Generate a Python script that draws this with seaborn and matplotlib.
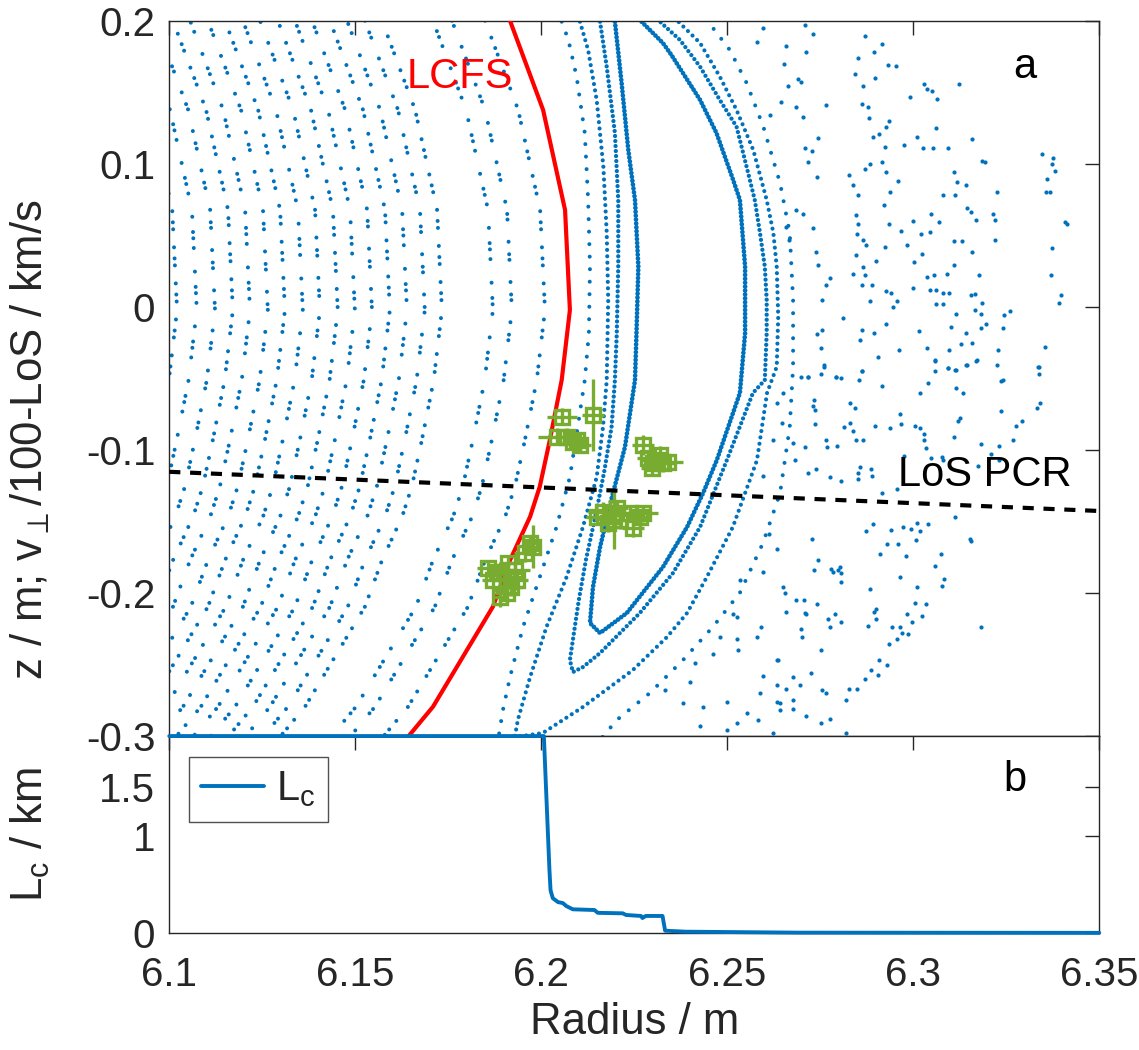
import numpy as np
import pandas as pd
import matplotlib
matplotlib.use("Agg")
import matplotlib.pyplot as plt
import seaborn as sns

# ---------------- data ----------------
x_ticks = [6.1, 6.15, 6.2, 6.25, 6.3, 6.35]
x_tick_labels = ["6.1", "6.15", "6.2", "6.25", "6.3", "6.35"]
z_ticks = [0.2, 0.1, 0.0, -0.1, -0.2, -0.3]
z_tick_labels = ["0.2", "0.1", "0", "-0.1", "-0.2", "-0.3"]
lc_ticks = [0, 1, 1.5]
lc_tick_labels = ["0", "1", "1.5"]

# last closed flux surface
lcfs_R = [6.1916, 6.2005, 6.2064, 6.2077, 6.2055, 6.2023, 6.1996, 6.1970, 6.1916, 6.1870, 6.1709, 6.1642]
lcfs_z = [0.2, 0.1376, 0.0677, -0.0022, -0.0511, -0.0932, -0.1257, -0.1467, -0.1771, -0.2096, -0.2795, -0.3005]

# radial distance of the nested closed surfaces inside the LCFS (read at z ~ 0)
surface_offset_R = [0.1100, 0.1056, 0.1003, 0.0954, 0.0906, 0.0860, 0.0812, 0.0766, 0.0718, 0.0672,
                    0.0624, 0.0578, 0.0532, 0.0484, 0.0438, 0.0390, 0.0344, 0.0207, 0.0156, 0.0067]

# island chains (traced Poincare bands)
island1_R = [6.2198, 6.2216, 6.2234, 6.2252, 6.2261, 6.2256, 6.2252, 6.2225, 6.2190, 6.2158, 6.2139, 6.2131,
             6.2158, 6.2230, 6.2327, 6.2392, 6.2435, 6.2472, 6.2534, 6.2548, 6.2548, 6.2534, 6.2516, 6.2471,
             6.2427, 6.2350, 6.2327, 6.2265]
island1_z = [0.1993, 0.1565, 0.1096, 0.0747, 0.0280, -0.0183, -0.0512, -0.0980, -0.1330, -0.1680, -0.1959, -0.2210,
             -0.2280, -0.2140, -0.1819, -0.1539, -0.1302, -0.1071, -0.0602, -0.0183, 0.0280, 0.0747, 0.0886, 0.1215,
             0.1446, 0.1760, 0.1844, 0.2005]

island2_R = [6.2158, 6.2176, 6.2198, 6.2207, 6.2207, 6.2203, 6.2198, 6.2189, 6.2170, 6.2149, 6.2120, 6.2101,
             6.2085, 6.2077, 6.2085, 6.2112, 6.2158, 6.2265, 6.2354, 6.2427, 6.2499, 6.2569, 6.2601, 6.2606,
             6.2606, 6.2601, 6.2588, 6.2574, 6.2552, 6.2525, 6.2480, 6.2427, 6.2373, 6.2314]
island2_z = [0.1993, 0.1678, 0.1215, 0.0747, 0.0280, -0.0183, -0.0512, -0.0840, -0.1141, -0.1421, -0.1770, -0.2049,
             -0.2329, -0.2469, -0.2553, -0.2518, -0.2420, -0.2140, -0.1861, -0.1539, -0.1071, -0.0602, -0.0512, -0.0183,
             0.0048, 0.0280, 0.0516, 0.0747, 0.0979, 0.1259, 0.1446, 0.1678, 0.1865, 0.2005]

island3_R = [6.2104, 6.2126, 6.2149, 6.2167, 6.2176, 6.2180, 6.2176, 6.2166, 6.2149, 6.2112, 6.2068, 6.2014,
             6.1970, 6.1937, 6.1929, 6.2004, 6.2112, 6.2246, 6.2338, 6.2392, 6.2445, 6.2515, 6.2580, 6.2607,
             6.2633, 6.2637, 6.2633, 6.2624, 6.2606, 6.2570, 6.2525, 6.2480, 6.2427, 6.2364]
island3_z = [0.1993, 0.1795, 0.1446, 0.0979, 0.0516, 0.0048, -0.0512, -0.0840, -0.1190, -0.1539, -0.1889, -0.2238,
             -0.2588, -0.2888, -0.3007, -0.2979, -0.2797, -0.2539, -0.2308, -0.2140, -0.1889, -0.1539, -0.1071, -0.0602,
             -0.0419, -0.0069, 0.0280, 0.0516, 0.0747, 0.1096, 0.1376, 0.1609, 0.1844, 0.2005]

island4_R = [6.2055, 6.2073, 6.2095, 6.2117, 6.2126, 6.2131, 6.2128, 6.2117, 6.2098, 6.2077, 6.2041, 6.1996,
             6.1951, 6.1916, 6.1897, 6.1884, 6.2158, 6.2203, 6.2292, 6.2381, 6.2461, 6.2534, 6.2596, 6.2642,
             6.2668, 6.2677, 6.2677, 6.2668, 6.2642, 6.2597, 6.2552, 6.2507, 6.2445]
island4_z = [0.1993, 0.1865, 0.1609, 0.1215, 0.0747, 0.0280, -0.0183, -0.0512, -0.0840, -0.1190, -0.1539, -0.1889,
             -0.2238, -0.2588, -0.2818, -0.3028, -0.3028, -0.2888, -0.2699, -0.2469, -0.2238, -0.1999, -0.1651, -0.1302,
             -0.0840, -0.0419, 0.0048, 0.0516, 0.0865, 0.1259, 0.1565, 0.1795, 0.2005]

# chaotic (stochastic) field-line footprints
scat_R = [6.2708, 6.2731, 6.2711, 6.2699, 6.2765, 6.2704, 6.2744, 6.2708, 6.2729, 6.2717, 6.2742, 6.2704, 6.2731,
          6.2738, 6.2744, 6.2765, 6.2776, 6.2755, 6.2740, 6.2756, 6.2751, 6.2760, 6.2717, 6.2870, 6.2915, 6.2852,
          6.2895, 6.2843, 6.2931, 6.2953, 6.2898, 6.2865, 6.2863, 6.2879, 6.2881, 6.2892, 6.2908, 6.2928, 6.2934,
          6.2925, 6.2915, 6.2870, 6.2883, 6.2926, 6.2960, 6.2828, 6.2837, 6.2852, 6.2937, 6.2922, 6.2845, 6.2852,
          6.2935, 6.2848, 6.2865, 6.2874, 6.2923, 6.2968, 6.2847, 6.2865, 6.2900, 6.2838, 6.2861, 6.2870, 6.2888,
          6.2885, 6.2926, 6.2941, 6.2956, 6.2946, 6.2928, 6.3000, 6.3001, 6.3024, 6.3020, 6.3044, 6.2984, 6.2998,
          6.3047, 6.3070, 6.2991, 6.2975, 6.3011, 6.3025, 6.3053, 6.3094, 6.3028, 6.3037, 6.3051, 6.3065, 6.3060,
          6.3122, 6.3158, 6.3184, 6.3194, 6.3110, 6.3117, 6.3143, 6.3079, 6.3113, 6.3144, 6.3155, 6.3168, 6.3225,
          6.3215, 6.3221, 6.3221, 6.3109, 6.3131, 6.3158, 6.3110, 6.3092, 6.3057, 6.3037, 6.3044, 6.3060, 6.3080,
          6.3097, 6.3061, 6.3079, 6.3155, 6.3165, 6.3185, 6.3176, 6.3167, 6.3181, 6.3114, 6.3102, 6.3142, 6.3182,
          6.3195, 6.3157, 6.3128, 6.3097, 6.3038, 6.2961, 6.2904, 6.3016, 6.2857, 6.2863, 6.2895, 6.2863, 6.2812,
          6.2791, 6.3059, 6.3093, 6.3114, 6.3145, 6.3171, 6.3240, 6.3228, 6.3259, 6.3245, 6.3346, 6.3376, 6.3374,
          6.3380, 6.3359, 6.3356, 6.3367, 6.3226, 6.3337, 6.3354, 6.3373, 6.3371, 6.3392, 6.3397, 6.3407, 6.3413,
          # lower right
          6.2760, 6.2717, 6.2699, 6.2751, 6.2792, 6.2807, 6.2863, 6.2854, 6.2915, 6.2733, 6.2731, 6.2735, 6.2831,
          6.2843, 6.2735, 6.2813, 6.2829, 6.2838, 6.2897, 6.2708, 6.2765, 6.2768, 6.2795, 6.2846, 6.2865, 6.2937,
          6.2964, 6.2968, 6.3004, 6.3019, 6.3028, 6.3028, 6.3035, 6.3018, 6.3040, 6.3058, 6.3058, 6.3094, 6.3113,
          6.3143, 6.3170, 6.3116, 6.3134, 6.3110, 6.3121, 6.3127, 6.3181, 6.3173, 6.3231, 6.3268, 6.3276, 6.3291,
          6.3235, 6.3237, 6.3240, 6.3336, 6.3338, 6.3342, 6.3334, 6.2738, 6.2717, 6.2777, 6.2807, 6.2852, 6.2852,
          6.2858, 6.2886, 6.2890, 6.2955, 6.2975, 6.2915, 6.3049, 6.3076, 6.3080, 6.3208, 6.3231, 6.3112, 6.2729,
          6.2744, 6.2733, 6.2780, 6.2783, 6.2798, 6.2803, 6.2807, 6.2807, 6.2872, 6.2892, 6.2939, 6.2973, 6.2993,
          6.3010, 6.3018, 6.3040, 6.3007, 6.2930, 6.2959, 6.2980, 6.2910, 6.2885, 6.2964, 6.3011, 6.3058, 6.3074,
          6.3082, 6.3078, 6.3152, 6.3155, 6.3182, 6.2706, 6.2708, 6.2713, 6.2742, 6.2699, 6.2702, 6.2771, 6.2789,
          6.2777, 6.2805, 6.2894, 6.2899, 6.2901, 6.2878, 6.2944, 6.2964, 6.2955, 6.2971, 6.2986, 6.2982, 6.3004,
          6.3033, 6.3024, 6.2997, 6.2935, 6.2930, 6.2907, 6.2905, 6.2887, 6.2870, 6.2849, 6.2828, 6.2820, 6.2751,
          6.2725, 6.2695, 6.2756, 6.2765, 6.2711, 6.2753, 6.2777, 6.2819,
          # middle strip
          6.2597, 6.2581, 6.2658, 6.2653, 6.2691, 6.2664, 6.2644, 6.2686, 6.2616, 6.2685, 6.2659, 6.2667,
          6.2682, 6.2650, 6.2655, 6.2686, 6.2659, 6.2534, 6.2525, 6.2516, 6.2592, 6.2579, 6.2633, 6.2637,
          6.2613, 6.2633, 6.2597, 6.2525, 6.2480, 6.2462, 6.2413, 6.2400, 6.2332, 6.2382, 6.2436, 6.2498,
          6.2552, 6.2498, 6.2427, 6.2525, 6.2624, 6.2530, 6.2677, 6.2659, 6.2677, 6.2633, 6.2633, 6.2597,
          6.2642, 6.2588, 6.2583, 6.2642, 6.2677, 6.2633, 6.2651, 6.2646, 6.2624, 6.2597, 6.2677]
scat_z = [0.197, 0.191, 0.178, 0.157, 0.141, 0.133, 0.118, 0.111, 0.109, 0.101, 0.091, 0.065, 0.055,
          0.038, 0.029, 0.015, 0.020, 0.005, -0.019, -0.016, -0.029, -0.042, -0.049, 0.189, 0.184, 0.174,
          0.178, 0.163, 0.169, 0.168, 0.160, 0.154, 0.142, 0.140, 0.132, 0.119, 0.121, 0.126, 0.130,
          0.112, 0.101, 0.096, 0.100, 0.094, 0.088, 0.092, 0.085, 0.078, 0.080, 0.071, 0.064, 0.058,
          0.058, 0.051, 0.047, 0.043, 0.042, 0.053, 0.036, 0.028, 0.032, 0.023, 0.015, 0.022, 0.015,
          0.004, 0.011, 0.010, 0.004, 0.000, -0.012, 0.013, 0.031, 0.037, 0.051, 0.052, 0.043, 0.060,
          0.065, 0.059, 0.147, 0.113, 0.119, 0.111, 0.111, 0.111, 0.156, 0.152, 0.151, 0.145, 0.125,
          0.156, 0.117, 0.102, 0.101, 0.094, 0.087, 0.085, 0.078, 0.078, 0.069, 0.066, 0.061, 0.080,
          0.065, 0.061, 0.047, 0.046, 0.046, 0.038, 0.029, 0.023, 0.022, 0.021, 0.012, 0.012, 0.010,
          0.010, 0.002, 0.002, 0.008, 0.009, 0.003, 0.022, -0.002, -0.005, -0.005, -0.014, -0.018, -0.015,
          -0.012, -0.025, -0.026, -0.030, -0.029, -0.030, -0.035, -0.017, -0.023, -0.016, -0.018, -0.045, -0.008,
          -0.049, -0.037, -0.043, -0.044, -0.041, -0.037, -0.015, -0.030, -0.003, -0.006, 0.107, 0.104, 0.100,
          0.095, 0.089, 0.080, 0.080, -0.041, -0.042, -0.028, 0.041, 0.022, 0.003, 0.008, 0.059, 0.058,
          # lower right
          -0.041, -0.049, -0.049, -0.047, -0.049, -0.050, -0.045, -0.051, -0.055, -0.065, -0.069, -0.072, -0.067,
          -0.071, -0.082, -0.084, -0.081, -0.087, -0.083, -0.098, -0.093, -0.098, -0.097, -0.093, -0.093, -0.085,
          -0.075, -0.082, -0.083, -0.085, -0.089, -0.093, -0.099, -0.060, -0.053, -0.045, -0.038, -0.043, -0.044,
          -0.041, -0.038, -0.057, -0.060, -0.091, -0.080, -0.078, -0.096, -0.111, -0.097, -0.093, -0.083, -0.080,
          -0.073, -0.052, -0.051, -0.042, -0.047, -0.067, -0.071, -0.113, -0.116, -0.119, -0.122, -0.116, -0.120,
          -0.112, -0.113, -0.118, -0.127, -0.104, -0.130, -0.106, -0.105, -0.107, -0.103, -0.107, -0.147, -0.162,
          -0.177, -0.184, -0.183, -0.185, -0.184, -0.182, -0.186, -0.192, -0.157, -0.152, -0.156, -0.154, -0.155,
          -0.151, -0.157, -0.152, -0.163, -0.166, -0.166, -0.174, -0.173, -0.197, -0.189, -0.196, -0.181, -0.173,
          -0.190, -0.195, -0.162, -0.164, -0.224, -0.205, -0.214, -0.215, -0.208, -0.225, -0.231, -0.218, -0.215,
          -0.224, -0.220, -0.213, -0.211, -0.218, -0.223, -0.224, -0.224, -0.232, -0.228, -0.229, -0.215, -0.207,
          -0.208, -0.216, -0.220, -0.236, -0.250, -0.247, -0.257, -0.254, -0.260, -0.267, -0.267, -0.275, -0.240,
          -0.256, -0.264, -0.268, -0.270, -0.286, -0.291, -0.288, -0.298,
          # middle strip
          0.195, 0.185, 0.182, 0.170, 0.159, 0.154, 0.143, 0.140, 0.134, 0.068, 0.056, 0.047,
          -0.107, -0.196, -0.200, -0.205, -0.213, -0.191, -0.217, -0.215, -0.224, -0.231, -0.247, -0.247,
          -0.159, -0.169, -0.185, -0.232, -0.231, -0.243, -0.249, -0.262, -0.268, -0.277, -0.280, -0.276,
          -0.284, -0.296, -0.293, -0.291, -0.298, -0.240, -0.259, -0.267, -0.275, -0.264, -0.276, -0.258,
          -0.277, -0.270, -0.289, -0.282, -0.281, -0.067, -0.060, -0.081, -0.093, -0.118, -0.095]

# line of sight of the poloidal correlation reflectometer
los_R = [6.10, 6.35]
los_z = [-0.1153, -0.1427]

# measured positions (R, z) with uncertainties
meas_R = [6.1857, 6.1889, 6.1911, 6.1907, 6.1889, 6.1956, 6.1970, 6.1934, 6.1871, 6.1907, 6.1978, 6.1929, 6.1880, 6.1920,
          6.2055, 6.2140, 6.2041, 6.2086, 6.2104, 6.2068, 6.2095,
          6.2274, 6.2288, 6.2310, 6.2297, 6.2328, 6.2341, 6.2319, 6.2300,
          6.2167, 6.2193, 6.2149, 6.2211, 6.2238, 6.2274, 6.2247, 6.2265, 6.2180, 6.2203, 6.2195]
meas_z = [-0.1828, -0.1863, -0.1793, -0.2003, -0.2026, -0.1723, -0.1653, -0.1910, -0.1910, -0.1910, -0.1677, -0.1840, -0.1850, -0.1960,
          -0.0768, -0.0756, -0.0908, -0.0943, -0.0966, -0.0908, -0.0930,
          -0.0966, -0.1059, -0.1071, -0.1129, -0.1094, -0.1083, -0.1036, -0.1090,
          -0.1432, -0.1443, -0.1467, -0.1491, -0.1443, -0.1443, -0.1548, -0.1467, -0.1513, -0.1408, -0.1490]
meas_Rerr = [0.003, 0.003, 0.002, 0.003, 0.002, 0.003, 0.002, 0.003, 0.003, 0.002, 0.002, 0.004, 0.002, 0.003,
             0.004, 0.003, 0.005, 0.003, 0.003, 0.003, 0.002,
             0.003, 0.003, 0.004, 0.003, 0.003, 0.004, 0.003, 0.002,
             0.004, 0.003, 0.003, 0.004, 0.003, 0.004, 0.003, 0.003, 0.003, 0.003, 0.002]
meas_zerr = [0.006, 0.008, 0.006, 0.006, 0.007, 0.006, 0.006, 0.007, 0.006, 0.008, 0.015, 0.006, 0.005, 0.006,
             0.006, 0.025, 0.006, 0.006, 0.005, 0.006, 0.005,
             0.007, 0.006, 0.005, 0.005, 0.006, 0.005, 0.006, 0.005,
             0.007, 0.006, 0.006, 0.006, 0.006, 0.006, 0.006, 0.005, 0.006, 0.006, 0.020]

# connection length
lc_R = [6.10, 6.2000, 6.2007, 6.2022, 6.2025, 6.2031, 6.2045, 6.2058, 6.2067, 6.2085, 6.2143, 6.2152, 6.2219,
        6.2228, 6.2268, 6.2272, 6.2281, 6.2326, 6.2333, 6.2388, 6.2692, 6.35]
lc_km = [2.02, 2.02, 2.02, 0.65, 0.44, 0.36, 0.32, 0.31, 0.28, 0.246, 0.239, 0.21, 0.205,
         0.188, 0.178, 0.157, 0.178, 0.178, 0.027, 0.017, 0.007, 0.005]

# ---------------- style ----------------
sns.set_theme(style="white")
plt.rcParams['font.family'] = ['Liberation Sans', 'DejaVu Sans']
plt.rcParams['mathtext.fontset'] = 'custom'
plt.rcParams['mathtext.rm'] = 'Liberation Sans'
plt.rcParams['mathtext.it'] = 'Liberation Sans:italic'
plt.rcParams['mathtext.bf'] = 'Liberation Sans:bold'
plt.rcParams['axes.unicode_minus'] = False
plt.rcParams['lines.scale_dashes'] = False

BLUE = '#0072BD'
GREEN = '#77AC30'
GRAY = '#262626'
FS_TICK = 29
FS_LABEL = 31.5
FS_TEXT = 30

fig = plt.figure(figsize=(11.39, 10.5), dpi=100)
ax1 = fig.add_axes([0.1486, 0.2990, 0.8165, 0.6813])
ax2 = fig.add_axes([0.1486, 0.1111, 0.8165, 0.1879])

# nested closed surfaces (dotted Poincare traces)
patterns = [(0.01, 9, 0.01, 4, 0.01, 16), (0.01, 5, 0.01, 13, 0.01, 8), (0.01, 11, 0.01, 4.5, 0.01, 7, 0.01, 17)]
phases = [0, 5, 11, 3, 8, 14, 2, 9, 6, 12, 1, 7, 4, 10, 13, 0, 6, 3, 9, 5]
lR = np.array(lcfs_R)
for i, off in enumerate(surface_offset_R):
    ax1.plot(lR - off, lcfs_z, color=BLUE, lw=2.9, dash_capstyle='round',
             linestyle=(phases[i], patterns[i % 3]), zorder=1)

# island chains
for R, z, lw, pat in [(island1_R, island1_z, 3.4, (0.01, 2.8)),
                      (island2_R, island2_z, 3.1, (0.01, 3.6)),
                      (island3_R, island3_z, 3.0, (0.01, 4.6)),
                      (island4_R, island4_z, 2.9, (0.01, 9.0))]:
    ax1.plot(R, z, color=BLUE, lw=lw, dash_capstyle='round', linestyle=(0, pat), zorder=1)

# stochastic region
sns.scatterplot(x=scat_R, y=scat_z, ax=ax1, color=BLUE, s=9, linewidth=0, zorder=1)

# LCFS
sns.lineplot(x=lcfs_R, y=lcfs_z, ax=ax1, sort=False, estimator=None, color='#FF0000', lw=3, zorder=3)

# measurements
ax1.errorbar(meas_R, meas_z, xerr=meas_Rerr, yerr=meas_zerr, fmt='s', mfc='none', mec=GREEN,
             ecolor=GREEN, ms=10.5, mew=2.4, elinewidth=2.4, capsize=0, zorder=4)

# line of sight
ax1.plot(los_R, los_z, color='black', lw=3, linestyle=(0, (8, 7)), zorder=5)

ax1.text(6.1781, 0.1606, 'LCFS', color='#FF0000', fontsize=FS_TEXT, ha='center', va='center')
ax1.text(6.3193, -0.1176, 'LoS PCR', color='black', fontsize=FS_TEXT, ha='center', va='center', zorder=6)
ax1.text(6.3300, 0.1676, 'a', color='black', fontsize=FS_TEXT, ha='center', va='center')

ax1.set_xlim(6.1, 6.35)
ax1.set_ylim(-0.3, 0.2)
ax1.set_xticks(x_ticks)
ax1.set_xticklabels([])
ax1.set_yticks(z_ticks)
ax1.set_yticklabels(z_tick_labels)
ax1.set_ylabel(r'z / m; v$_{\perp}$/100-LoS / km/s', fontsize=FS_LABEL, color=GRAY)
ax1.yaxis.set_label_coords(-0.126, 0.414)

# connection length
sns.lineplot(x=lc_R, y=lc_km, ax=ax2, sort=False, estimator=None, color=BLUE, lw=2.8,
             label=r'L$_\mathregular{c}$', clip_on=False, zorder=5)
ax2.set_xlim(6.1, 6.35)
ax2.set_ylim(0, 2.02)
ax2.set_xticks(x_ticks)
ax2.set_xticklabels(x_tick_labels)
ax2.set_yticks(lc_ticks)
ax2.set_yticklabels(lc_tick_labels)
ax2.set_xlabel('Radius / m', fontsize=FS_LABEL, color=GRAY, labelpad=6)
ax2.set_ylabel(r'L$_\mathregular{c}$ / km', fontsize=FS_LABEL, color=GRAY)
ax2.yaxis.set_label_coords(-0.126, 0.5)
ax2.text(6.3273, 1.57, 'b', color='black', fontsize=FS_TEXT, ha='center', va='center')
leg = ax2.legend(loc='upper left', bbox_to_anchor=(0.021, 0.894), borderaxespad=0, fontsize=FS_TEXT,
                 frameon=True, fancybox=False, handlelength=1.5, handletextpad=0.3, borderpad=0.3)
leg.get_frame().set_edgecolor(GRAY)
leg.get_frame().set_linewidth(1.0)

for ax in (ax1, ax2):
    ax.set_facecolor('white')
    ax.tick_params(direction='in', length=10, width=1, top=True, right=True, labelsize=FS_TICK,
                   colors=GRAY)
    ax.tick_params(axis='y', pad=10)
    ax.tick_params(axis='x', pad=16)
    for sp in ax.spines.values():
        sp.set_color(GRAY)
        sp.set_linewidth(1.0)
    ax.grid(False)

fig.savefig('out.png', dpi=100)
